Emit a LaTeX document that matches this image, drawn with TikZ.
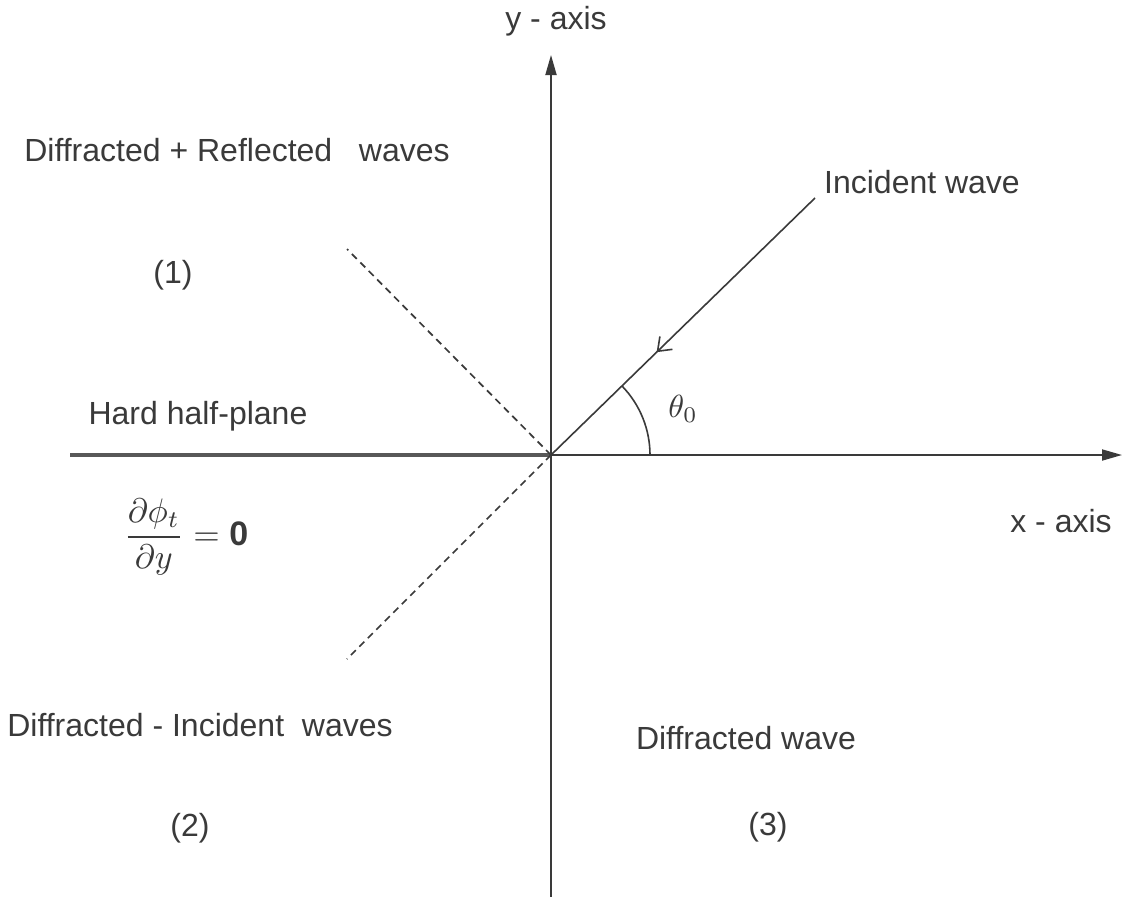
\documentclass[tikz,border=0pt]{standalone}
\usepackage{graphicx}
\usepackage{fontspec}
\setmainfont{Liberation Sans}
\usetikzlibrary{arrows.meta,decorations.markings}
\definecolor{ink}{HTML}{3A3A3A}
\tikzset{
  lbl/.style={text=ink,font=\fontsize{32}{38}\selectfont,inner sep=0pt},
  axisln/.style={draw=ink,line width=1.8pt,-{Triangle[length=20pt,width=11pt]}},
  thinln/.style={draw=ink,line width=1.6pt},
  dashln/.style={draw=ink,line width=1.7pt,dash pattern=on 7pt off 5pt},
  hardln/.style={draw=ink!85,line width=4.5pt},
}
\begin{document}
\begin{tikzpicture}[x=1pt,y=-1pt]
\useasboundingbox (0,0) rectangle (1130,897);
\fill[white] (0,0) rectangle (1130,897);
\coordinate (O) at (551,455);
\coordinate (ytop) at (551,55);
\coordinate (ybot) at (551,897);
\coordinate (xend) at (1122,455);
\coordinate (hl) at (70,455);
\coordinate (inc) at (815,198);
\coordinate (du) at (347,249);
\coordinate (dl) at (347,659);
% axes
\draw[axisln] (ybot) -- (ytop);
\draw[axisln] (O) -- (xend);
\draw[hardln] (hl) -- (O);
% dashed lines
\draw[dashln] (O) -- (du);
\draw[dashln] (O) -- (dl);
% incident wave
\draw[thinln,postaction={decorate},decoration={markings,mark=at position 0.6 with {\arrow{Straight Barb[length=12pt,width=18pt,line width=1.6pt]}}}] (inc) -- (O);
% angle
\draw[thinln] (650,455) arc[start angle=0,end angle=-44.2,radius=99];
% labels
\node[lbl] (ylab) at (556,21) {y - axis};
\node[lbl] (xlab) at (1061,521) {x - axis};
\node[lbl] (inclab) at (922,182) {Incident wave};
\node[lbl] (th) at (683,409) {\scalebox{3.2}{\fontsize{10}{12}\selectfont$\theta_0$}};
\node[lbl] (dr) at (237,150) {Diffracted + Reflected \ \ waves};
\node[lbl] (r1) at (173,275) {(1)};
\node[lbl] (hp) at (198,416) {Hard half-plane};
\node[lbl] (eq) at (186,537) {\scalebox{3.4}{\fontsize{10}{12}\selectfont$\displaystyle\frac{\partial\phi_t}{\partial y}=\mathbf{0}$}};
\node[lbl] (di) at (200,725) {Diffracted - Incident \ waves};
\node[lbl] (r2) at (190,828) {(2)};
\node[lbl] (dw) at (746,738) {Diffracted wave};
\node[lbl] (r3) at (768,827) {(3)};
\end{tikzpicture}
\end{document}
